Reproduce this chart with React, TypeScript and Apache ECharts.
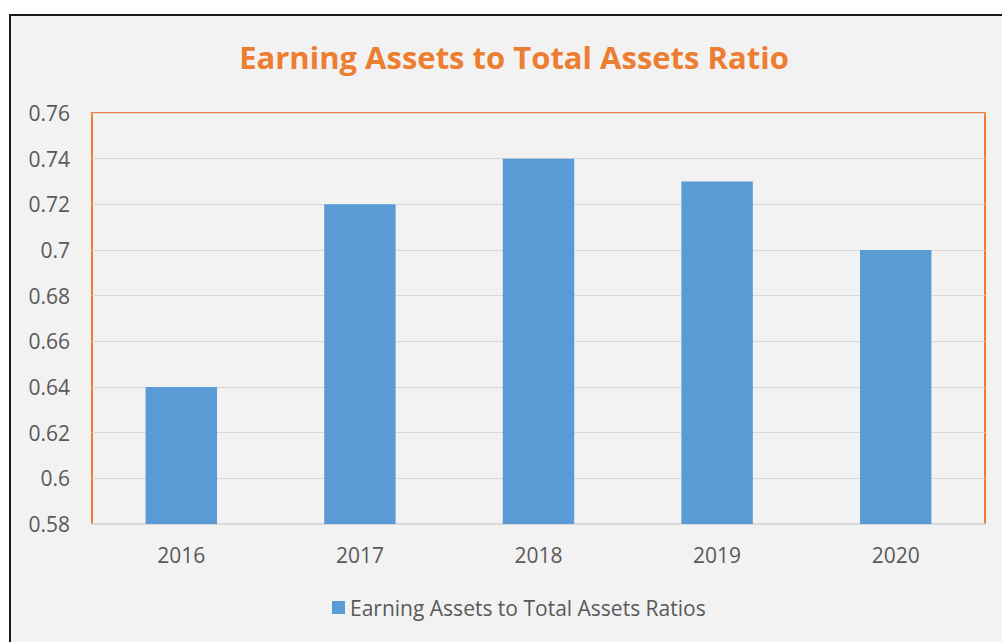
import React, { useEffect, useRef } from "react";
import * as echarts from "echarts";

const categories = ["2016", "2017", "2018", "2019", "2020"];
const values = [0.64, 0.72, 0.74, 0.73, 0.7];
const seriesName = "Earning Assets to Total Assets Ratios";
const titleText = "Earning Assets to Total Assets Ratio";

export default function App() {
  const ref = useRef<HTMLDivElement>(null);
  useEffect(() => {
    document.body.style.margin = "0";
    const chart = echarts.init(ref.current!, null, { renderer: "svg" });
    const font = "'Open Sans', sans-serif";
    chart.setOption({
      animation: false,
      backgroundColor: "#ffffff",
      graphic: [
        {
          type: "rect",
          z: -10,
          silent: true,
          shape: { x: 10, y: 15, width: 1000, height: 700 },
          style: { fill: "#f2f2f2", stroke: "#1a1a1a", lineWidth: 2 },
        },
      ],
      title: {
        text: titleText,
        left: 509,
        textAlign: "center",
        top: 36,
        textStyle: { color: "#ED7D31", fontSize: 31, fontWeight: "bold", fontFamily: font },
      },
      legend: {
        bottom: 19,
        left: 327,
        icon: "rect",
        itemWidth: 13,
        itemHeight: 13,
        itemGap: 6,
        textStyle: { color: "#595959", fontSize: 21, fontFamily: font },
      },
      grid: {
        left: 92,
        top: 113,
        right: 17,
        bottom: 118,
        show: true,
        borderColor: "#ED7D31",
        borderWidth: 2,
        backgroundColor: "transparent",
      },
      xAxis: {
        type: "category",
        data: categories,
        axisLine: { lineStyle: { color: "#d9d9d9", width: 2 } },
        axisTick: { show: false },
        axisLabel: { color: "#595959", fontSize: 21, fontFamily: font, margin: 20 },
      },
      yAxis: {
        type: "value",
        min: 0.58,
        max: 0.76,
        interval: 0.02,
        axisLine: { show: false },
        axisTick: { show: false },
        splitLine: { lineStyle: { color: "#d9d9d9", width: 1 } },
        axisLabel: {
          color: "#595959",
          fontSize: 21,
          fontFamily: font,
          margin: 22,
          formatter: (v: number) => String(parseFloat(v.toFixed(2))),
        },
      },
      series: [
        {
          name: seriesName,
          type: "bar",
          data: values,
          barWidth: "40%",
          itemStyle: { color: "#5B9BD5" },
        },
      ],
    });
    return () => chart.dispose();
  }, []);
  return <div ref={ref} style={{ width: 1002, height: 642 }} />;
}
